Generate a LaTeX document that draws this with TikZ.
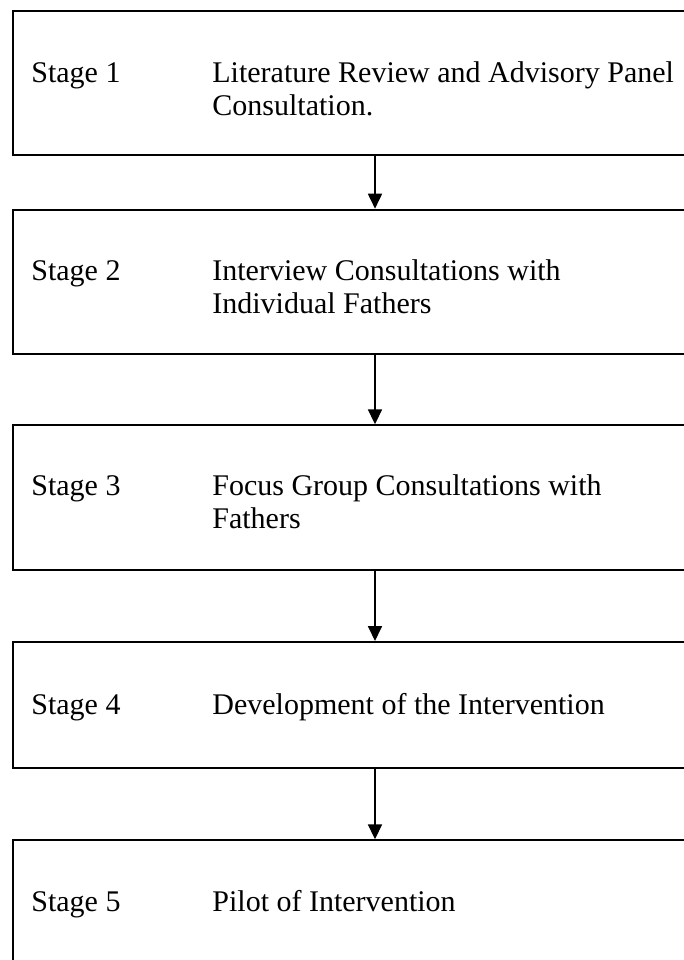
\documentclass[tikz,border=0pt]{standalone}
\usepackage{fontspec}
\setmainfont{Liberation Serif}
\usetikzlibrary{arrows.meta,positioning}

\newcommand{\tasklines}[1]{\begin{tabular}[t]{@{}l@{}}#1\end{tabular}}

\tikzset{
    stagebox/.style={draw, line width=1pt, rectangle, anchor=north west,
        minimum width=362pt, minimum height=72pt, inner sep=0pt},
    stagelabel/.style={anchor=base west, inner sep=0pt,
        font=\fontsize{15}{16.5}\selectfont},
    flow/.style={-{Triangle[length=7.5pt,width=7pt]}, line width=0.9pt}
}

\begin{document}
\begin{tikzpicture}[x=0.5pt, y=-0.5pt]
    \path[use as bounding box, clip] (0,0) rectangle (684,960);
    % boxes
    \node[stagebox] (box1) at (12,10) {};
    \node[stagebox] (box2) at (12,208.7) {};
    \node[stagebox, minimum height=72.5pt] (box3) at (12,424.3) {};
    \node[stagebox, minimum height=63pt] (box4) at (12,641) {};
    \node[stagebox] (box5) at (12,839.3) {};
    % texts
    \node[stagelabel] (stage1) at (31,82) {Stage 1};
    \node[stagelabel] (task1) at (212,82) {\tasklines{Literature Review and Advisory Panel\\
        Consultation.}};
    \node[stagelabel] (stage2) at (31,280.7) {Stage 2};
    \node[stagelabel] (task2) at (212,280.7) {\tasklines{Interview Consultations with\\
        Individual Fathers}};
    \node[stagelabel] (stage3) at (31,495.7) {Stage 3};
    \node[stagelabel] (task3) at (212,495.7) {\tasklines{Focus Group Consultations with\\
        Fathers}};
    \node[stagelabel] (stage4) at (31,714) {Stage 4};
    \node[stagelabel] (task4) at (212,714) {Development of the Intervention};
    \node[stagelabel] (stage5) at (31,911.7) {Stage 5};
    \node[stagelabel] (task5) at (212,911.7) {Pilot of Intervention};
    % arrows
    \draw[flow] (box1.south) -- (box2.north);
    \draw[flow] (box2.south) -- (box3.north);
    \draw[flow] (box3.south) -- (box4.north);
    \draw[flow] (box4.south) -- (box5.north);
\end{tikzpicture}
\end{document}
